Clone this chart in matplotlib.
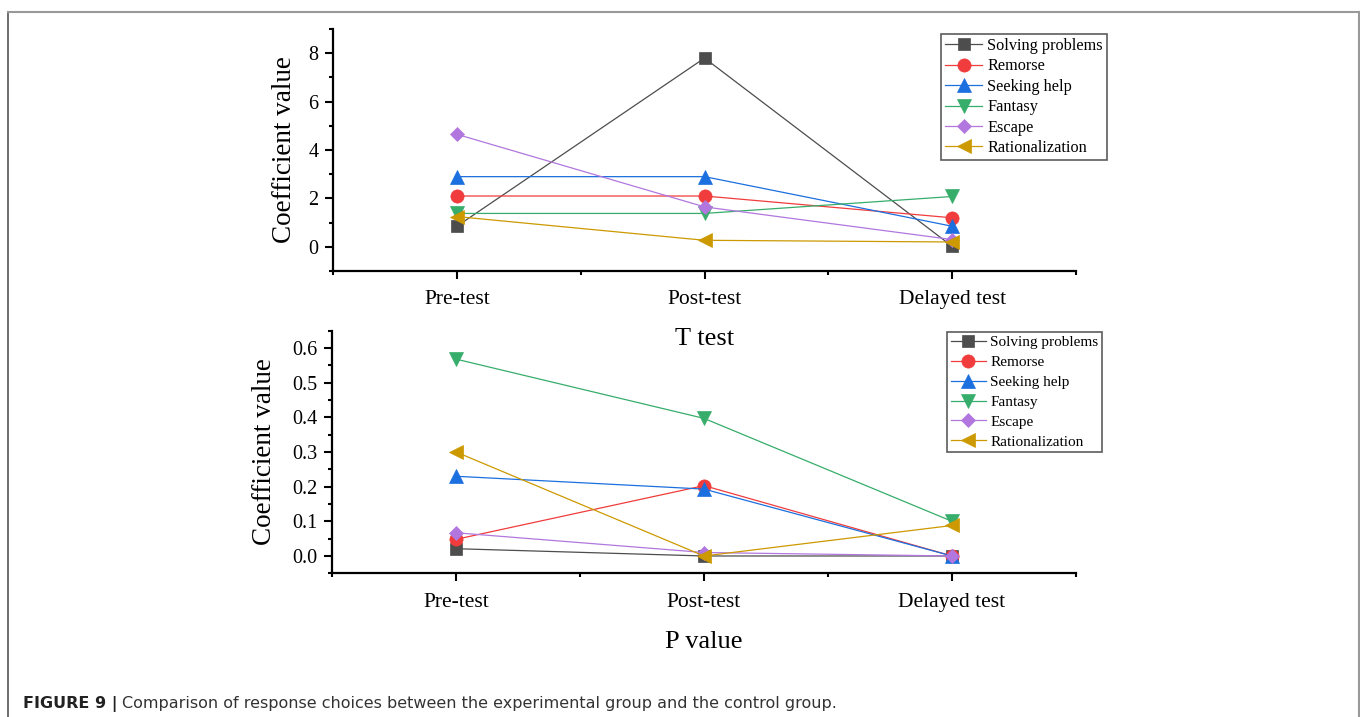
import matplotlib
matplotlib.use('Agg')
import matplotlib.pyplot as plt
from matplotlib.ticker import MultipleLocator, FixedLocator, FormatStrFormatter
from matplotlib.lines import Line2D

plt.rcParams['font.family'] = ['Liberation Serif', 'DejaVu Serif']

# categories / series
stages = ['Pre-test', 'Post-test', 'Delayed test']
series = ['Solving problems', 'Remorse', 'Seeking help', 'Fantasy', 'Escape', 'Rationalization']

# T test coefficients
t_solving = [0.85, 7.8, 0.02]
t_remorse = [2.1, 2.1, 1.2]
t_seeking = [2.9, 2.9, 0.85]
t_fantasy = [1.38, 1.38, 2.08]
t_escape = [4.65, 1.65, 0.3]
t_rational = [1.25, 0.27, 0.2]

# P values
p_solving = [0.021, 0.0, 0.0]
p_remorse = [0.048, 0.203, 0.0]
p_seeking = [0.23, 0.193, 0.0]
p_fantasy = [0.568, 0.397, 0.1]
p_escape = [0.067, 0.01, 0.0]
p_rational = [0.30, 0.0, 0.088]

t_values = [t_solving, t_remorse, t_seeking, t_fantasy, t_escape, t_rational]
p_values = [p_solving, p_remorse, p_seeking, p_fantasy, p_escape, p_rational]

colors = ['#4d4d4d', '#f03c3c', '#1c6fde', '#37ad6b', '#b177de', '#cc9900']
markers = ['s', 'o', '^', 'v', 'D', '<']
msizes = [8.5, 9.5, 10.5, 10.5, 7.5, 10.5]

fig = plt.figure(figsize=(13.6, 7.17), dpi=100)

# frame around the figure panel
fig.add_artist(Line2D([0.0059, 0.0059], [-0.01, 0.9837], transform=fig.transFigure,
                      color='#555555', lw=1.2))
fig.add_artist(Line2D([0.0059, 0.9993], [0.9837, 0.9837], transform=fig.transFigure,
                      color='#999999', lw=1.5))
fig.add_artist(Line2D([0.9993, 0.9993], [-0.01, 0.9837], transform=fig.transFigure,
                      color='#999999', lw=1.5))


def draw_panel(ax, data, ylim, major, minor, fmt, xlabel, ylabel_x, xlabel_y, leg_pos, leg_fs, leg_sp):
    x = list(range(len(stages)))
    ax.patch.set_alpha(0)
    for vals, name, c, m, ms in zip(data, series, colors, markers, msizes):
        ax.plot(x, vals, color=c, lw=0.9, marker=m, markersize=ms,
                markerfacecolor=c, markeredgecolor=c, markeredgewidth=0.5, label=name)
    ax.set_xlim(-0.5, 2.5)
    ax.set_ylim(*ylim)
    ax.set_xticks(x)
    ax.set_xticklabels(stages)
    ax.xaxis.set_minor_locator(FixedLocator([-0.5, 0.5, 1.5, 2.5]))
    ax.yaxis.set_major_locator(MultipleLocator(major))
    ax.yaxis.set_minor_locator(MultipleLocator(minor))
    ax.yaxis.set_major_formatter(FormatStrFormatter(fmt))
    for s in ['top', 'right']:
        ax.spines[s].set_visible(False)
    for s in ['left', 'bottom']:
        ax.spines[s].set_linewidth(1.6)
    ax.tick_params(axis='both', which='major', direction='out', length=5.5, width=1.5)
    ax.tick_params(axis='both', which='minor', direction='out', length=3, width=1.5)
    ax.tick_params(axis='y', which='major', labelsize=14.5, pad=5)
    ax.tick_params(axis='x', which='major', labelsize=15.5, pad=8.5)
    ax.set_ylabel('Coefficient value', fontsize=19.5)
    ax.yaxis.set_label_coords(ylabel_x, 0.5)
    ax.set_xlabel(xlabel, fontsize=19, va='center')
    ax.xaxis.set_label_coords(0.5, xlabel_y)
    leg = ax.legend(loc='upper left', bbox_to_anchor=leg_pos, bbox_transform=fig.transFigure,
                    fontsize=leg_fs, frameon=True, fancybox=False, borderaxespad=0,
                    borderpad=0.25, handlelength=2.3, handletextpad=0.3,
                    labelspacing=leg_sp)
    leg.get_frame().set_edgecolor('#333333')
    leg.get_frame().set_linewidth(1.2)


ax1 = fig.add_axes([0.2449, 0.622, 0.5463, 0.3375])
draw_panel(ax1, t_values, (-1, 9), 2, 1, '%d', 'T test', -0.049, -0.28,
           (0.6919, 0.9526), 11.7, 0.27)

ax2 = fig.add_axes([0.2441, 0.2004, 0.5471, 0.3384])
draw_panel(ax2, p_values, (-0.05, 0.65), 0.1, 0.05, '%.1f', 'P value', -0.074, -0.285,
           (0.6961, 0.537), 11, 0.4)

# caption
cap_fs = 11.5
t1 = fig.text(0.0169, 0.0125, 'FIGURE 9 |', fontsize=cap_fs, fontweight='bold',
              family='DejaVu Sans', color='#222222', va='baseline')
fig.canvas.draw()
bb = t1.get_window_extent(renderer=fig.canvas.get_renderer())
fig.text(bb.x1 / fig.bbox.width + 0.003, 0.0125,
         'Comparison of response choices between the experimental group and the control group.',
         fontsize=cap_fs, family='DejaVu Sans', color='#333333', va='baseline')

fig.savefig('out.png', dpi=100)
